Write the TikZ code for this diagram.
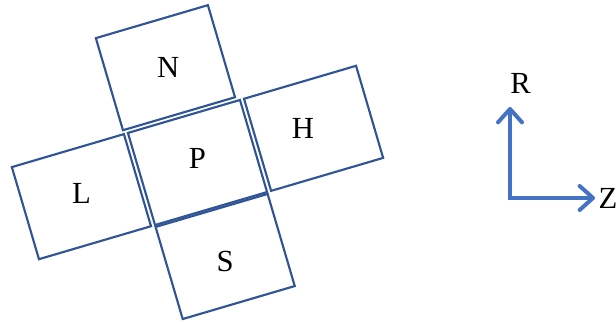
\documentclass[tikz,border=0pt]{standalone}
\usepackage{fontspec}
\setmainfont{Liberation Serif}
\usetikzlibrary{arrows.meta,positioning}
\definecolor{cellblue}{HTML}{2F5597}
\definecolor{axisblue}{HTML}{4472C4}
\tikzset{
  cell/.style={draw=cellblue, line width=1.6pt, rectangle, minimum width=87.6pt, minimum height=72pt, inner sep=0pt, transform shape},
  tag/.style={font=\fontsize{23}{27}\selectfont, inner sep=0pt},
  axis/.style={{Straight Barb[round,length=10pt,width=18pt]}-{Straight Barb[round,length=10pt,width=18pt]}, line width=3pt, draw=axisblue}
}

\begin{document}
\begin{tikzpicture}[x=0.75pt, y=0.75pt]
  \useasboundingbox (0,0) rectangle (616,323);

  % tilted cells round P
  \begin{scope}[shift={(197.5,160.5)}, rotate=16.4]
    \node[cell] (P) at (0,0) {};
    \node[cell] (N) at (-4,100) {};
    \node[cell] (H) at (121,0) {};
    \node[cell] (L) at (-121,0) {};
    \node[cell] (S) at (0,-98) {};
  \end{scope}

  \node[tag, yshift=3pt] (Ptag) at (P) {P};
  \node[tag, xshift=2pt] (Ntag) at (N) {N};
  \node[tag, xshift=-8pt] (Htag) at (H) {H};
  \node[tag, yshift=2.5pt] (Ltag) at (L) {L};
  \node[tag, yshift=-4pt] (Stag) at (S) {S};

  % R-Z axes
  \coordinate (O) at (510,125);
  \coordinate (Rtip) at (510,216);
  \coordinate (Ztip) at (595,125);
  \draw[axis] (Rtip) -- (O) -- (Ztip);
  \node[tag, above right=10pt and 0pt of Rtip] (Rtag) {R};
  \node[tag, right=2.5pt of Ztip] (Ztag) {Z};
\end{tikzpicture}
\end{document}
